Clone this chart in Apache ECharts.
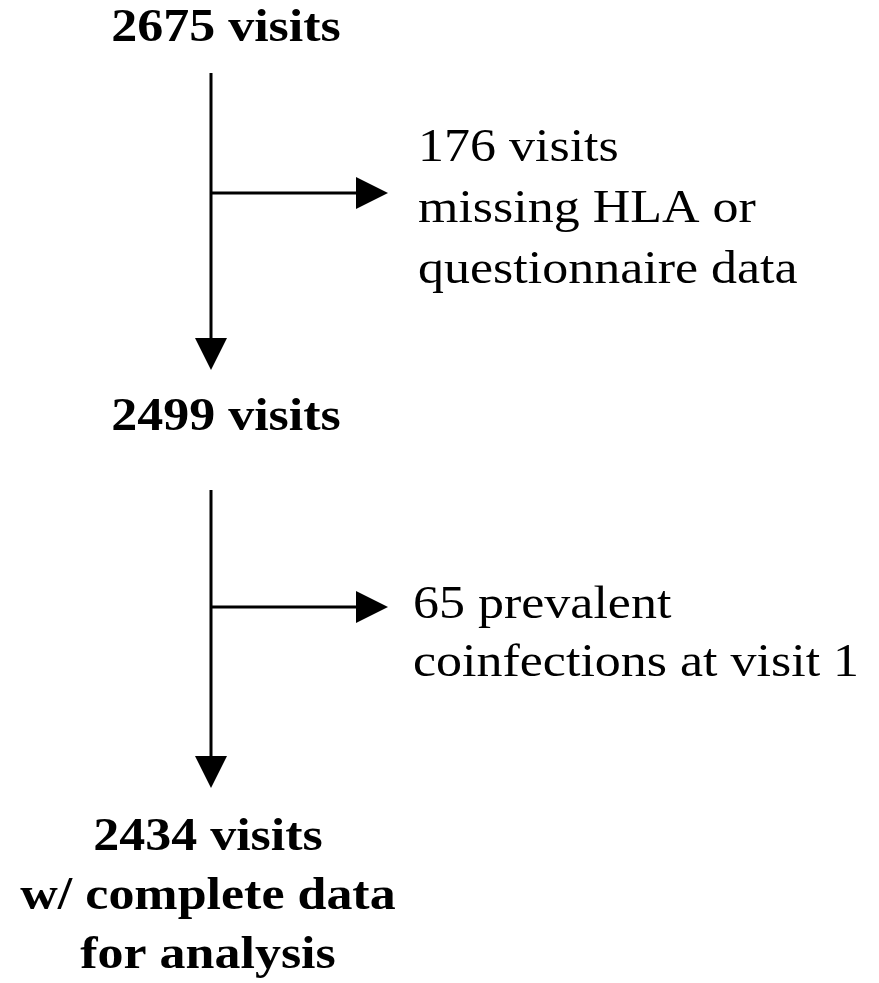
<!DOCTYPE html>
<html>
<head>
<meta charset="utf-8">
<script src="https://cdn.jsdelivr.net/npm/echarts@6/dist/echarts.min.js"></script>
<style>
  html, body { margin: 0; padding: 0; background: #fff; }
  #chart { width: 879px; height: 983px; }
</style>
</head>
<body>
<div id="chart"></div>
<script>
// flow counts
const stageCounts = [2675, 2499, 2434];
const excludedCounts = [176, 65];
const stageNotes = ['', '', 'w/ complete data\nfor analysis'];
const excludedReasons = ['missing HLA or\nquestionnaire data', 'prevalent\ncoinfections at visit 1'];

// layout in pixel units of a hidden 879 x 983 axis
const trunkX = 211;
const stageTextX = [226, 226, 208];
const stageBaseline = [43, 432, 852];
const trunkSpans = [[73, 370], [490, 788]];
const branchY = [193, 607];
const branchTipX = 388;
const noteX = [418, 413];
const noteBaseline = [163, 620];
const noteLineHeight = [61, 58];

const FONT_SIZE = 46;
const STRETCH = 1.13;

const arrows = [];
trunkSpans.forEach(([y1, y2]) => arrows.push([trunkX, y1, trunkX, y2]));
branchY.forEach((y) => arrows.push([trunkX, y, branchTipX, y]));

const texts = [];
stageCounts.forEach((n, i) => {
  const label = `${n} visits` + (stageNotes[i] ? '\n' + stageNotes[i] : '');
  texts.push({ value: [stageTextX[i], stageBaseline[i]], text: label, bold: true, align: 'center', lh: 59 });
});
excludedCounts.forEach((n, i) => {
  const label = n === 65 ? `${n} ${excludedReasons[i]}` : `${n} visits\n${excludedReasons[i]}`;
  texts.push({ value: [noteX[i], noteBaseline[i]], text: label, bold: false, align: 'left', lh: noteLineHeight[i] });
});

const chart = echarts.init(document.getElementById('chart'));

chart.setOption({
  backgroundColor: '#fff',
  animation: false,
  grid: { left: 0, right: 0, top: 0, bottom: 0 },
  xAxis: { type: 'value', min: 0, max: 879, show: false },
  yAxis: { type: 'value', min: 0, max: 983, inverse: true, show: false },
  series: [
    {
      type: 'custom',
      data: arrows,
      renderItem: (params, api) => {
        const p1 = api.coord([api.value(0), api.value(1)]);
        const p2 = api.coord([api.value(2), api.value(3)]);
        const dx = p2[0] - p1[0];
        const dy = p2[1] - p1[1];
        const len = Math.hypot(dx, dy);
        const ux = dx / len;
        const uy = dy / len;
        const head = 32;
        const half = 16;
        const bx = p2[0] - ux * head;
        const by = p2[1] - uy * head;
        return {
          type: 'group',
          children: [
            {
              type: 'line',
              shape: { x1: p1[0], y1: p1[1], x2: bx + ux * 2, y2: by + uy * 2 },
              style: { stroke: '#000', lineWidth: 3 }
            },
            {
              type: 'polygon',
              shape: { points: [p2, [bx - uy * half, by + ux * half], [bx + uy * half, by - ux * half]] },
              style: { fill: '#000' }
            }
          ]
        };
      }
    },
    {
      type: 'custom',
      data: texts,
      renderItem: (params, api) => {
        const item = texts[params.dataIndex];
        const p = api.coord([api.value(0), api.value(1)]);
        return {
          type: 'text',
          x: p[0],
          y: p[1] - item.lh / 2 - FONT_SIZE * 0.3,
          scaleX: STRETCH,
          style: {
            x: 0,
            y: 0,
            text: item.text,
            fill: '#000',
            font: `${item.bold ? 'bold ' : ''}${FONT_SIZE}px "Liberation Serif", "Times New Roman", serif`,
            align: item.align,
            verticalAlign: 'top',
            lineHeight: item.lh
          }
        };
      }
    }
  ]
});
</script>
</body>
</html>
